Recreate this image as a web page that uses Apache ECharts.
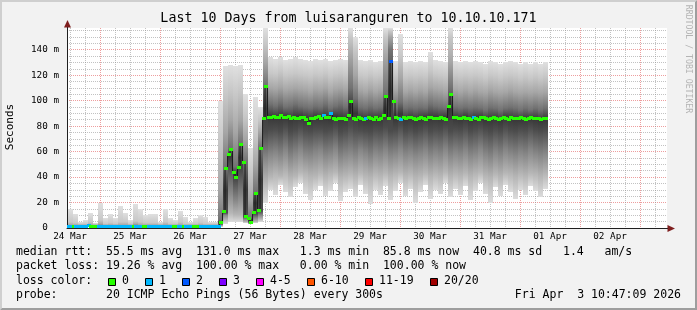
<!DOCTYPE html>
<html>
<head>
<meta charset="utf-8">
<script src="https://cdn.jsdelivr.net/npm/echarts@6.0.0/dist/echarts.min.js"></script>
<style>
html,body{margin:0;padding:0;background:#f2f2f2;}
#chart{width:697px;height:310px;}
</style>
</head>
<body>
<div id="chart"></div>
<script>
// ================= DATA =================
const chartTitle = 'Last 10 Days from luisaranguren to 10.10.10.171';
const dayLabels = ['24 Mar','25 Mar','26 Mar','27 Mar','28 Mar','29 Mar','30 Mar','31 Mar','01 Apr','02 Apr'];
const yTickValues = [0, 20, 40, 60, 80, 100, 120, 140];
const yMaxMs = 157;
// time axis in hours after 24 Mar 00:00
const axisStartHour = 10.78;
const axisEndHour = 250.78;

// median RTT (ms), 1 sample per hour starting 24 Mar 11:00
const medianStartHour = 11;
const medianMs = [
 1.4,1.3,1.4,1.5,1.3,1.4,1.3,1.4,1.6,1.4,1.3,1.4,1.5,1.3,1.4,1.3,1.4,1.5,1.4,1.3,
 1.4,1.3,1.5,1.4,1.3,1.4,1.4,1.3,1.5,1.4,1.3,1.4,1.3,1.4,1.5,1.3,1.4,1.4,1.3,1.5,
 1.4,1.3,1.4,1.5,1.3,1.4,1.3,1.4,1.5,1.4,1.3,1.4,1.3,1.5,1.4,1.3,1.4,1.4,1.3,1.4,
 1.5,
 4.4,12.6,46.5,57.5,61.5,43.7,39.7,47.6,65.4,51.5,9.1,7.3,4.7,12.3,26.7,13.8,62.5,85.8,111.0,
 86.5,86.8,87.6,86.8,87.0,88.4,86.8,86.5,87.2,86.0,
 86.5,85.8,86.2,87.0,86.4,85.5,82.4,85.7,86.0,86.8,
 87.5,86.2,88.0,86.5,87.0,90.0,86.0,85.5,86.0,85.8,
 86.2,85.0,88.0,99.4,86.0,85.5,86.5,86.0,85.2,86.0,
 86.5,86.0,85.5,86.8,85.0,86.0,88.0,103.0,86.0,131.0,
 99.4,87.0,86.0,85.5,86.5,86.0,87.0,86.5,86.0,85.5,
 86.2,86.8,86.0,85.5,86.5,87.0,86.2,85.8,86.0,86.5,
 86.0,85.5,95.5,104.6,87.0,86.5,86.0,85.8,86.5,86.2,
 86.0,85.5,86.8,86.0,85.2,86.5,87.0,86.0,85.5,86.2,
 86.8,86.0,85.5,86.2,86.8,86.0,85.5,86.5,86.0,85.8,
 86.2,86.5,86.0,85.5,86.2,86.8,86.0,85.8,86.2,85.5,85.8,85.8
];
// loss colour index per median sample (0 = no loss, 1 = 1 lost, 2 = 2 lost ...)
const medianLoss = [
 1,1,0,1,1,1,1,1,1,0,0,0,1,1,1,1,1,1,1,1,
 1,1,1,1,1,1,0,1,1,1,0,0,1,1,1,1,1,1,1,1,
 1,1,0,0,1,1,0,1,1,1,0,0,0,1,1,1,1,1,1,1,
 1,
 0,0,0,0,0,0,0,0,0,0,0,0,0,0,0,0,0,0,0,
 0,0,0,0,0,0,0,0,0,0,
 0,0,0,0,0,0,0,0,0,0,
 0,0,1,0,0,1,0,0,0,0,
 0,0,0,0,0,0,0,0,0,1,
 0,0,0,0,0,0,0,0,0,2,
 0,0,0,1,0,0,0,0,0,0,
 0,0,0,0,0,0,0,0,0,0,
 0,0,0,0,0,0,0,0,0,0,
 0,0,1,0,0,0,0,0,0,0,
 0,0,0,0,0,0,0,0,0,0,
 0,0,0,0,0,0,0,0,0,0,0,0
];

// smoke: sorted ping distribution edges (ms), one column per 2 hours from 24 Mar 11:00
const smokeStartHour = 11;
const smokeStepHours = 2;
const smokeMin = [
 0.6,0.6,0.7,0.6,0.6,0.7,0.6,0.6,0.7,0.6,0.6,0.6,0.7,0.6,0.6,0.7,0.6,0.6,0.6,0.7,0.6,0.6,0.7,0.6,0.6,0.6,0.7,0.6,0.6,0.6,
 1.0,3,5,5,5,4,3,4,5,20,
 30,26,34,28,24,32,35,27,22,30,
 33,25,29,35,21,28,31,24,34,27,
 19,30,26,33,22,29,35,25,31,20,
 28,34,23,30,27,35,24,31,26,33,
 22,29,35,27,20,32,25,34,28,23,
 30,26,33,29,24,31
];
const smokeLow2 = [
 0.9,0.9,0.9,0.9,0.9,0.9,0.9,0.9,0.9,0.9,0.9,0.9,0.9,0.9,0.9,0.9,0.9,0.9,0.9,0.9,0.9,0.9,0.9,0.9,0.9,0.9,0.9,0.9,0.9,0.9,
 1.5,6,12,10,10,5,3.5,5,7,35,
 40,42,41,43,39,41,44,42,40,41,
 43,40,42,44,39,41,42,40,43,41,
 39,42,41,43,40,42,44,41,42,39,
 41,43,40,42,41,44,40,42,41,43,
 40,42,44,41,39,42,40,43,42,40,
 42,41,43,42,40,42
];
const smokeLow1 = [
 1.05,1.05,1.05,1.05,1.05,1.05,1.05,1.05,1.05,1.05,1.05,1.05,1.05,1.05,1.05,1.05,1.05,1.05,1.05,1.05,1.05,1.05,1.05,1.05,1.05,1.05,1.05,1.05,1.05,1.05,
 2.5,10,28,22,25,7,4,8,10,55,
 58,60,57,61,56,59,62,58,57,60,
 61,57,59,62,56,58,60,57,61,59,
 56,60,58,61,57,59,62,58,60,57,
 59,61,57,60,58,62,57,60,58,61,
 57,59,62,58,56,60,57,61,59,57,
 60,58,61,59,57,59
];
const smokeCoreLow = [
 1.2,1.2,1.2,1.2,1.2,1.2,1.2,1.2,1.2,1.2,1.2,1.2,1.2,1.2,1.2,1.2,1.2,1.2,1.2,1.2,1.2,1.2,1.2,1.2,1.2,1.2,1.2,1.2,1.2,1.2,
 3.5,12,50,38,45,9,4.5,11,13,75,
 77,78,76,79,75,77,79,77,76,78,
 78,76,77,79,75,77,80,78,77,76,
 75,78,77,79,76,77,80,76,78,75,
 77,79,76,78,77,79,76,78,77,79,
 76,78,79,77,75,78,76,79,77,76,
 78,77,79,77,76,77
];
const smokeCoreHigh = [
 1.8,1.7,1.8,1.7,1.8,1.7,1.9,1.7,1.8,1.7,1.8,1.8,1.7,1.9,1.8,1.7,1.8,1.8,1.7,1.8,1.7,1.7,1.8,1.7,1.7,1.7,1.8,1.7,1.7,1.7,
 6,48,63,48,66,52,8,28,63,112,
 97,96,98,95,96,97,96,95,94,96,
 95,97,94,96,97,95,110,102,95,94,
 96,94,95,105,140,95,99,94,95,94,
 95,94,97,96,95,94,110,95,94,95,
 94,95,94,93,95,94,93,94,95,94,
 93,94,93,94,93,94
];
const smokeHigh1 = [
 2.6,2.4,2.3,2.3,2.6,2.2,2.9,2.3,2.5,2.3,2.7,2.5,2.2,2.8,2.6,2.4,2.5,2.4,2.2,2.6,2.3,2.2,2.5,2.3,2.2,2.3,2.4,2.3,2.2,2.2,
 30,75,85,75,85,70,22,50,75,130,
 110,109,111,108,109,110,109,108,107,109,
 108,110,107,109,110,108,135,120,108,107,
 109,107,108,135,150,108,118,107,108,107,
 108,107,111,109,108,107,130,108,107,108,
 107,108,107,106,108,107,106,107,108,107,
 106,107,106,107,106,107
];
const smokeHigh2 = [
 4.5,4,3.5,3.5,4.5,3,6,3.5,4,3.5,5,4.5,3,5.5,5,4,4,4,3,5,3.5,3,4.5,3.5,3,3.5,4,3.5,3,3,
 70,105,108,105,108,88,45,72,85,145,
 122,121,123,120,121,122,121,120,119,121,
 120,122,119,121,122,120,150,140,120,119,
 121,119,120,150,155,120,135,119,120,119,
 120,119,124,121,120,119,150,120,119,120,
 119,120,119,118,120,119,118,119,120,119,
 118,119,118,119,118,119
];
const smokeMax = [
 15,11,5,6,12,4,20,8,11,8,17,12,6,19,15,10,11,11,5,15,8,6,13,9,5,8,10,9,5,5,
 100,127,128,127,128,105,63,103,95,157,
 134,133,134,132,133,134,133,132,131,133,
 132,133,131,132,133,132,157,150,132,131,
 132,130,131,157,157,131,152,130,131,130,
 131,130,138,132,131,130,157,131,130,131,
 130,131,130,129,131,130,129,130,131,130,
 129,130,129,130,129,130
];

const lossColors = ['#26ff00','#00b8ff','#0059ff','#7e00ff','#ff00ff','#ff5500','#ff0000','#a10000'];
const lossLabels = ['0','1','2','3','4-5','6-10','11-19','20/20'];
const statLines = [
 'median rtt:  55.5 ms avg  131.0 ms max   1.3 ms min  85.8 ms now  40.8 ms sd   1.4   am/s',
 'packet loss: 19.26 % avg  100.00 % max   0.00 % min  100.00 % now',
 'loss color:',
 'probe:       20 ICMP Echo Pings (56 Bytes) every 300s'
];
const stampText = 'Fri Apr  3 10:47:09 2026';
const sideText = 'RRDTOOL / TOBI OETIKER';

// ================= STYLE / BUILD =================
const MONO = '"DejaVu Sans Mono", monospace';
// shade at each smoke edge (min .. max)
const edgeShades = ['#dcdcdc','#b6b6b6','#868686','#4c4c4c','#727272','#a6a6a6','#c8c8c8','#e0e0e0'];
const coreShade = '#383838';
const edges = [smokeMin, smokeLow2, smokeLow1, smokeCoreLow, smokeCoreHigh, smokeHigh1, smokeHigh2, smokeMax];

const smokeData = [];
for (let k = 0; k < smokeMin.length; k++) {
  const t0 = smokeStartHour + k * smokeStepHours;
  for (let b = 0; b < 7; b++) {
    smokeData.push([t0, t0 + smokeStepHours, edges[b][k], edges[b + 1][k], b]);
  }
}
const medianData = medianMs.map((v, j) => [medianStartHour + j + 0.5, v, medianLoss[j]]);

const noonHours = dayLabels.map((_, i) => 12 + 24 * i);
const midnightHours = [];
const sixHourHours = [];
for (let h = 0; h <= 252; h += 6) {
  if (h < axisStartHour || h > axisEndHour) continue;
  if (h % 24 === 0) midnightHours.push(h); else sixHourHours.push(h);
}
const yMinorValues = [];
for (let v = 5; v < yMaxMs; v += 5) if (v % 20 !== 0) yMinorValues.push(v);

function bandFill(b) {
  let stops;
  if (b === 3) {
    stops = [{offset: 0, color: edgeShades[4]}, {offset: 0.5, color: coreShade}, {offset: 1, color: edgeShades[3]}];
  } else {
    stops = [{offset: 0, color: edgeShades[b + 1]}, {offset: 1, color: edgeShades[b]}];
  }
  return {type: 'linear', x: 0, y: 0, x2: 0, y2: 1, colorStops: stops};
}

function renderSmoke(params, api) {
  const a = api.coord([api.value(0), api.value(3)]);
  const c = api.coord([api.value(1), api.value(2)]);
  const x = Math.round(a[0]), x2 = Math.round(c[0]);
  const y = Math.round(a[1]), y2 = Math.round(c[1]);
  if (y2 - y <= 0) return null;
  return {type: 'rect', shape: {x: x, y: y, width: x2 - x, height: y2 - y},
          style: {fill: bandFill(api.value(4))}};
}
function renderMedian(params, api) {
  const p = api.coord([api.value(0), api.value(1)]);
  return {type: 'rect', shape: {x: Math.round(p[0] - 2), y: Math.round(p[1] - 1.5), width: 4, height: 3},
          style: {fill: lossColors[api.value(2)]}};
}

const gridMajor = 'rgba(222,79,79,0.55)';
const gridMinor = 'rgba(143,143,143,0.55)';

const graphics = [
  // 3d frame
  {type: 'polygon', shape: {points: [[0,310],[2,308],[2,2],[695,2],[697,0],[0,0]]}, style: {fill: '#cfcfcf'}, silent: true},
  {type: 'polygon', shape: {points: [[2,308],[695,308],[695,2],[697,0],[697,310],[0,310]]}, style: {fill: '#9e9e9e'}, silent: true},
  // title
  {type: 'text', x: 348.5, y: 19, style: {text: chartTitle, fontFamily: MONO, fontSize: 13.3, fill: '#000', textAlign: 'center', textVerticalAlign: 'middle'}},
  // y-axis name
  {type: 'text', x: 10, y: 127, rotation: Math.PI / 2, style: {text: 'Seconds', fontFamily: MONO, fontSize: 11, fill: '#000', textAlign: 'center', textVerticalAlign: 'middle'}},
  // watermark
  {type: 'text', x: 688, y: 59, rotation: -Math.PI / 2, style: {text: sideText, fontFamily: MONO, fontSize: 8.2, fill: '#b4b4b4', textAlign: 'center', textVerticalAlign: 'middle'}},
  // y axis extension + arrows
  {type: 'line', shape: {x1: 67.5, y1: 28, x2: 67.5, y2: 24}, style: {stroke: '#1f1f1f', lineWidth: 1}},
  {type: 'polygon', shape: {points: [[67.5,20],[64,27.5],[71,27.5]]}, style: {fill: '#7f1f1f'}},
  {type: 'line', shape: {x1: 667, y1: 228.5, x2: 669, y2: 228.5}, style: {stroke: '#1f1f1f', lineWidth: 1}},
  {type: 'polygon', shape: {points: [[675,228.5],[667.5,225],[667.5,232]]}, style: {fill: '#7f1f1f'}}
];
const lineY = [252.5, 266.5, 280.7, 294.8];
statLines.forEach((s, i) => {
  graphics.push({type: 'text', x: 16, y: lineY[i], style: {text: s, fontFamily: MONO, fontSize: 11.5, fill: '#000', textAlign: 'left', textVerticalAlign: 'middle'}});
});
graphics.push({type: 'text', x: 681, y: lineY[3], style: {text: stampText, fontFamily: MONO, fontSize: 11.5, fill: '#000', textAlign: 'right', textVerticalAlign: 'middle'}});
let lx = 108;
lossLabels.forEach((lab, i) => {
  graphics.push({type: 'rect', shape: {x: lx + 0.5, y: 278.5, width: 7, height: 7}, style: {fill: lossColors[i], stroke: '#000', lineWidth: 1}});
  graphics.push({type: 'text', x: lx + 14, y: lineY[2], style: {text: lab, fontFamily: MONO, fontSize: 11.5, fill: '#000', textAlign: 'left', textVerticalAlign: 'middle'}});
  lx += 30 + 7 * lab.length;
});

const chart = echarts.init(document.getElementById('chart'), null, {renderer: 'canvas'});
chart.setOption({
  backgroundColor: '#f2f2f2',
  animation: false,
  grid: {left: 67, right: 30, top: 28, bottom: 82, show: true, backgroundColor: '#ffffff', borderWidth: 0, containLabel: false, outerBoundsMode: 'none'},
  xAxis: [
    {type: 'value', min: axisStartHour, max: axisEndHour, position: 'bottom',
     axisLine: {show: true, lineStyle: {color: '#1f1f1f', width: 1}},
     axisTick: {show: false},
     axisLabel: {customValues: noonHours, fontFamily: MONO, fontSize: 9.3, color: '#000', margin: 4,
                 formatter: v => dayLabels[Math.round((v - 12) / 24)]},
     splitLine: {show: false}},
    {type: 'value', min: axisStartHour, max: axisEndHour, position: 'bottom',
     axisLine: {show: false}, axisLabel: {show: false},
     axisTick: {show: false, customValues: midnightHours},
     splitLine: {show: true, lineStyle: {color: gridMajor, width: 1, type: [1, 1]}}},
    {type: 'value', min: axisStartHour, max: axisEndHour, position: 'bottom',
     axisLine: {show: false}, axisLabel: {show: false},
     axisTick: {show: false, customValues: sixHourHours},
     splitLine: {show: true, lineStyle: {color: gridMinor, width: 1, type: [1, 1]}}}
  ],
  yAxis: [
    {type: 'value', min: 0, max: yMaxMs, position: 'left',
     axisLine: {show: true, lineStyle: {color: '#1f1f1f', width: 1}},
     axisTick: {show: false, customValues: yTickValues},
     axisLabel: {customValues: yTickValues, fontFamily: MONO, fontSize: 9.3, color: '#000', margin: 8,
                 formatter: v => (v === 0 ? '0  ' : v + ' m')},
     splitLine: {show: true, lineStyle: {color: gridMajor, width: 1, type: [1, 1]}}},
    {type: 'value', min: 0, max: yMaxMs, position: 'left',
     axisLine: {show: false}, axisLabel: {show: false},
     axisTick: {show: false, customValues: yMinorValues},
     splitLine: {show: true, lineStyle: {color: gridMinor, width: 1, type: [1, 1]}}}
  ],
  series: [
    {type: 'custom', name: 'smoke', xAxisIndex: 0, yAxisIndex: 0, renderItem: renderSmoke,
     data: smokeData, encode: {x: [0, 1], y: [2, 3]}, clip: true, silent: true, z: 2},
    {type: 'line', name: 'median path', xAxisIndex: 0, yAxisIndex: 0, step: 'middle', showSymbol: false, symbol: 'none',
     data: medianData.map(d => [d[0], d[1]]), lineStyle: {color: '#1c1c1c', width: 1}, silent: true, z: 3},
    {type: 'custom', name: 'median', xAxisIndex: 0, yAxisIndex: 0, renderItem: renderMedian,
     data: medianData, encode: {x: 0, y: 1}, clip: true, silent: true, z: 4}
  ],
  graphic: {elements: graphics}
});
</script>
</body>
</html>
